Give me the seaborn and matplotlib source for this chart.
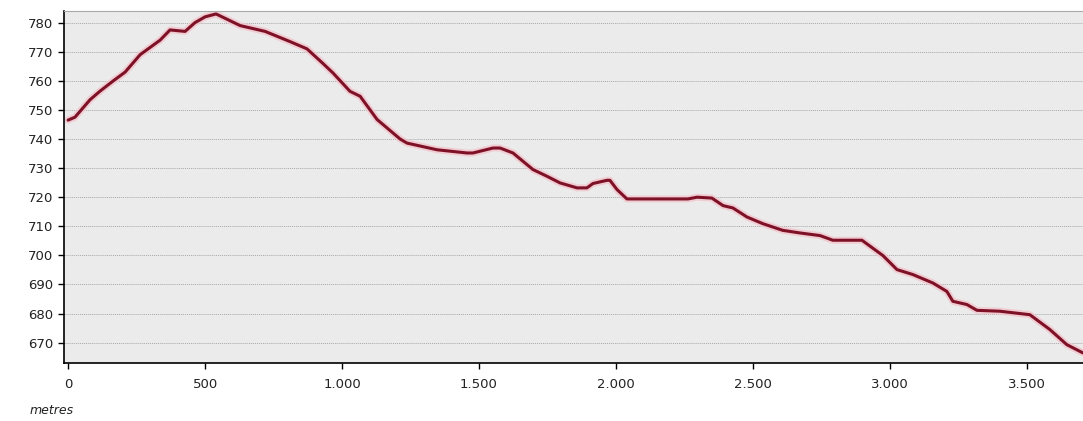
import pandas as pd
import seaborn as sns
import matplotlib.pyplot as plt
from matplotlib.ticker import FuncFormatter, MultipleLocator

# Elevation profile (distance in metres, elevation in metres)
distance = [0, 25, 80, 117, 165, 208, 263, 336, 372, 427, 463, 500, 540, 573,
            628, 719, 810, 872, 930, 967, 1029, 1066, 1128, 1212, 1237, 1347,
            1456, 1478, 1551, 1577, 1624, 1697, 1748, 1796, 1858, 1894, 1916,
            1967, 1978, 2004, 2040, 2263, 2296, 2350, 2391, 2427, 2478, 2536,
            2609, 2672, 2745, 2792, 2898, 2975, 3026, 3084, 3157, 3208, 3230,
            3281, 3318, 3401, 3511, 3584, 3646, 3704]
elevation = [746.5, 747.5, 753.5, 756.5, 760, 763, 769, 774, 777.5, 777, 780,
             782, 783, 781.5, 779, 777, 773.5, 771, 766, 762.7, 756.4, 754.7,
             746.7, 740, 738.6, 736.3, 735.2, 735.2, 736.9, 736.9, 735.2,
             729.5, 727.2, 724.9, 723.2, 723.2, 724.7, 725.8, 725.8, 722.6,
             719.4, 719.4, 720, 719.7, 717.1, 716.3, 713.2, 710.9, 708.6,
             707.7, 706.8, 705.2, 705.2, 699.9, 695.1, 693.4, 690.5, 687.6,
             684.2, 683.1, 681.1, 680.8, 679.6, 674.5, 669.3, 666.5]

df = pd.DataFrame({'distance': distance, 'elevation': elevation})

sns.set_style('white')
plt.rcParams['font.family'] = ['DejaVu Sans']

fig = plt.figure(figsize=(10.83, 4.21), dpi=100)
ax = fig.add_axes([0.0591, 0.1378, 0.9409, 0.836])
ax.set_facecolor('#ebebeb')

# soft pink halo under the profile, as in the original rendering
sns.lineplot(data=df, x='distance', y='elevation', ax=ax,
             color='#f2c4cc', linewidth=5, alpha=0.8)
sns.lineplot(data=df, x='distance', y='elevation', ax=ax,
             color='#7e1126', linewidth=2.2)

ax.set_xlim(-15, 3705)
ax.set_ylim(663, 784)
ax.xaxis.set_major_locator(MultipleLocator(500))
ax.yaxis.set_major_locator(MultipleLocator(10))
ax.yaxis.set_major_formatter(FuncFormatter(lambda v, p: f'{v:.0f}'))
ax.xaxis.set_major_formatter(
    FuncFormatter(lambda v, p: f'{v:,.0f}'.replace(',', '.')))

ax.grid(axis='y', linestyle=(0, (1, 1)), color='#a8a8a8', linewidth=0.7)
ax.grid(axis='x', visible=False)
ax.set_axisbelow(True)

for side in ['left', 'bottom']:
    ax.spines[side].set_color('black')
    ax.spines[side].set_linewidth(1.2)
ax.spines['top'].set_color('#a8a8a8')
ax.spines['right'].set_visible(False)

ax.tick_params(axis='both', which='major', direction='out', length=4.5,
               width=1, color='black', labelsize=9.5, labelcolor='#222222',
               left=True, bottom=True)
ax.tick_params(axis='x', pad=6)
ax.set_xlabel('')
ax.set_ylabel('')

fig.text(30 / 1083, 1 - 410 / 421, 'metres', style='italic', fontsize=9,
         ha='left', va='center', color='#222222')

fig.savefig('out.png', dpi=100)
